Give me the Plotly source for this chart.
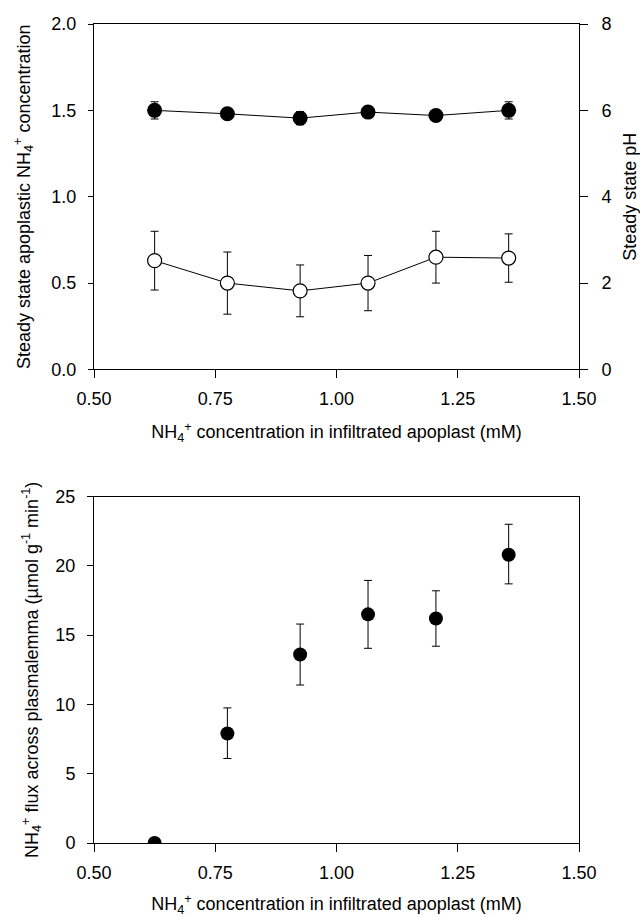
import plotly.graph_objects as go

# ---- data ----
x_conc = [0.625, 0.775, 0.925, 1.065, 1.205, 1.355]

# top panel: open circles -> steady state apoplastic NH4+ (left axis)
nh4_ss = [0.63, 0.50, 0.455, 0.50, 0.65, 0.645]
nh4_ss_err = [0.17, 0.18, 0.15, 0.16, 0.15, 0.14]

# top panel: filled circles -> steady state pH (right axis)
ph_ss = [6.0, 5.92, 5.82, 5.96, 5.88, 6.0]
ph_ss_err = [0.2, 0.05, 0.15, 0.05, 0.05, 0.2]

# bottom panel: NH4+ flux across plasmalemma
flux = [0.0, 7.9, 13.6, 16.5, 16.2, 20.8]
flux_err_plus = [0.0, 1.85, 2.2, 2.45, 2.0, 2.2]
flux_err_minus = [0.0, 1.8, 2.2, 2.45, 2.0, 2.1]

x_ticks = [0.5, 0.75, 1.0, 1.25, 1.5]
x_ticktext = ["0.50", "0.75", "1.00", "1.25", "1.50"]

FONT = "Liberation Sans, Arial, sans-serif"
FS = 18

fig = go.Figure()

fig.add_trace(go.Scatter(
    x=x_conc, y=nh4_ss, xaxis="x", yaxis="y", mode="lines+markers",
    line=dict(color="black", width=1),
    marker=dict(symbol="circle", size=14, color="white", line=dict(color="black", width=1.2)),
    error_y=dict(type="data", array=nh4_ss_err, color="black", thickness=1, width=4),
    showlegend=False))

fig.add_trace(go.Scatter(
    x=x_conc, y=ph_ss, xaxis="x", yaxis="y2", mode="lines+markers",
    line=dict(color="black", width=1),
    marker=dict(symbol="circle", size=15, color="black"),
    error_y=dict(type="data", array=ph_ss_err, color="black", thickness=1.2, width=4),
    showlegend=False))

fig.add_trace(go.Scatter(
    x=x_conc, y=flux, xaxis="x2", yaxis="y3", mode="markers",
    marker=dict(symbol="circle", size=14, color="black"),
    error_y=dict(type="data", array=flux_err_plus, arrayminus=flux_err_minus,
                 color="black", thickness=1, width=4),
    showlegend=False))

axis_common = dict(showline=True, linecolor="black", linewidth=1, ticks="outside",
                   tickcolor="black", tickwidth=1, showgrid=False, zeroline=False,
                   automargin=False,
                   tickfont=dict(family=FONT, size=FS, color="black"))

xtitle = "NH<sub>4</sub><sup>+</sup> concentration in infiltrated apoplast (mM)"

fig.update_layout(
    width=640, height=917,
    margin=dict(l=94, r=61, t=24, b=74),
    paper_bgcolor="white", plot_bgcolor="white",
    font=dict(family=FONT, size=FS, color="black"),
    xaxis=dict(axis_common, domain=[0, 1], anchor="y", range=[0.5, 1.5],
               tickvals=x_ticks, ticktext=x_ticktext, ticklen=8, ticklabelstandoff=5,
               mirror=True,
               title=dict(text=xtitle, font=dict(family=FONT, size=FS), standoff=17)),
    yaxis=dict(axis_common, domain=[0.5782, 1.0], anchor="x", range=[0, 2.0],
               tickvals=[0, 0.5, 1.0, 1.5, 2.0], ticktext=["0.0", "0.5", "1.0", "1.5", "2.0"],
               ticklen=5, ticklabelstandoff=8,
               title=dict(text="Steady state apoplastic NH<sub>4</sub><sup>+</sup> concentration",
                          font=dict(family=FONT, size=FS), standoff=16)),
    yaxis2=dict(axis_common, overlaying="y", side="right", anchor="x", range=[0, 8],
                tickvals=[0, 2, 4, 6, 8], ticklen=8, ticklabelstandoff=10,
                title=dict(text="Steady state pH", font=dict(family=FONT, size=FS), standoff=14)),
    xaxis2=dict(axis_common, domain=[0, 1], anchor="y3", range=[0.5, 1.5],
                tickvals=x_ticks, ticktext=x_ticktext, ticklen=8, ticklabelstandoff=5,
                mirror=True,
                title=dict(text=xtitle, font=dict(family=FONT, size=FS), standoff=17)),
    yaxis3=dict(axis_common, domain=[0, 0.4230], anchor="x2", range=[0, 25],
                tickvals=[0, 5, 10, 15, 20, 25], ticklen=6, ticklabelstandoff=8, mirror=True,
                title=dict(text="NH<sub>4</sub><sup>+</sup> flux across plasmalemma (µmol g<sup>-1</sup> min<sup>-1</sup>)",
                           font=dict(family=FONT, size=FS), standoff=12)),
)

fig.write_html("out.html")
